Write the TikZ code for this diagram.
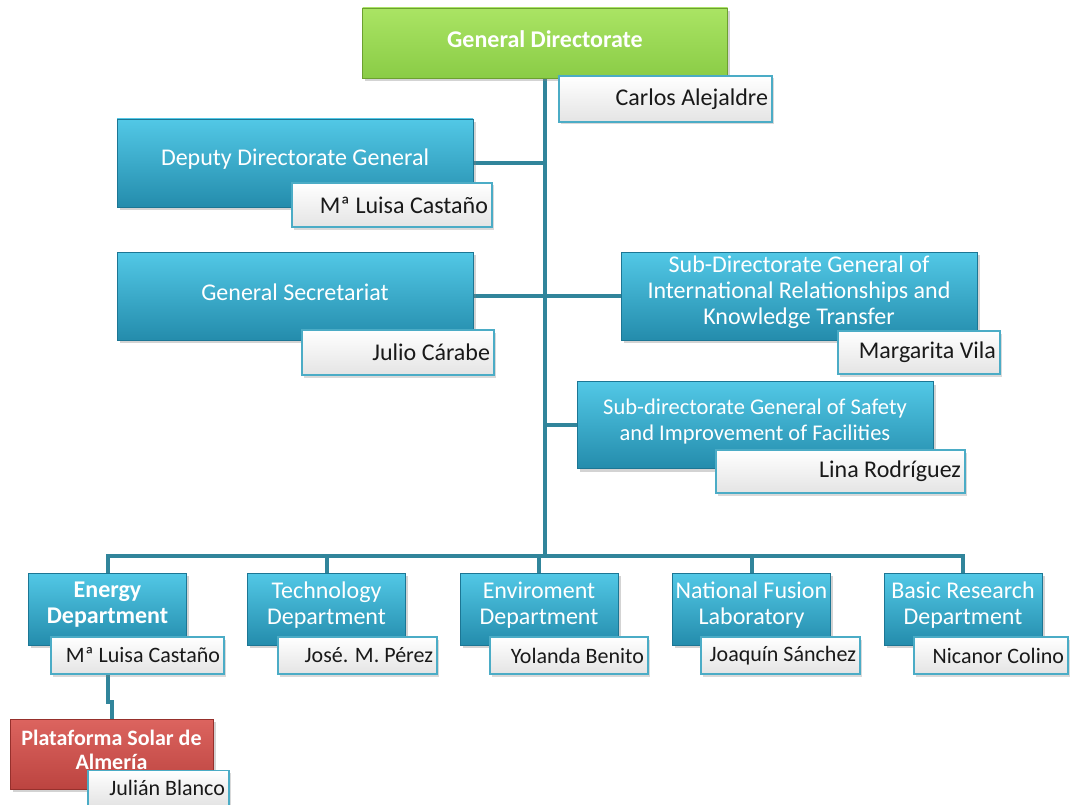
\documentclass[tikz,border=0pt]{standalone}
\usepackage{fontspec}
\setmainfont{Carlito}
\usepackage{xcolor}
\usepackage{tikz}
\usetikzlibrary{backgrounds,shadows,positioning}
\definecolor{LinkBlue}{RGB}{49,133,155}
\definecolor{UnitTop}{RGB}{82,200,230}
\definecolor{UnitBottom}{RGB}{36,140,172}
\definecolor{UnitEdge}{RGB}{28,118,148}
\definecolor{TopGreen}{RGB}{170,228,100}
\definecolor{BottomGreen}{RGB}{138,204,70}
\definecolor{EdgeGreen}{RGB}{108,160,48}
\definecolor{TopRed}{RGB}{220,100,95}
\definecolor{BottomRed}{RGB}{188,68,64}
\definecolor{EdgeRed}{RGB}{150,48,44}
\definecolor{NameEdge}{RGB}{75,172,198}
\definecolor{NameGrey}{RGB}{228,228,228}

\begin{document}
\begin{tikzpicture}[x=1pt, y=-1pt,
       text=black,
       every node/.style={font=\fontsize{24}{26}\selectfont},
       link/.style={draw=LinkBlue, line width=4pt},
       orgunit/.style 2 args={rectangle, minimum width=#1, minimum height=#2,
                              inner sep=0pt, line width=.8pt,
                              draw=UnitEdge, top color=UnitTop, bottom color=UnitBottom,
                              drop shadow={opacity=.35, shadow xshift=2.5pt, shadow yshift=-3pt}},
       green unit/.style={draw=EdgeGreen, top color=TopGreen, bottom color=BottomGreen},
       red unit/.style={draw=EdgeRed, top color=TopRed, bottom color=BottomRed},
       utext/.style={text=white, align=center, inner sep=0pt, yshift=4pt},
       boldtext/.style={font=\fontsize{24}{26}\selectfont\bfseries},
       person/.style 2 args={rectangle, text width=#1, minimum height=#2,
                             align=flush right, inner xsep=4pt, inner ysep=0pt, line width=1.5pt,
                             draw=NameEdge, top color=white, bottom color=NameGrey, text=black!90,
                             drop shadow={opacity=.3, shadow xshift=2pt, shadow yshift=-2.5pt}},
       smallname/.style={font=\fontsize{22}{24}\selectfont}]

    \useasboundingbox (0,0) rectangle (1070,805);

	%% Directorate and sub-directorates
	\node[orgunit={365}{70}, green unit,
	      label={[utext, boldtext]center:General Directorate}] (gd) at (545,43) {};
	\node[person={205}{46}] (gdp) at (665.5,99) {Carlos Alejaldre};

	\node[orgunit={356}{88}, label={[utext]center:Deputy Directorate General}] (ddg) at (295,163) {};
	\node[person={192}{44}] (ddgp) at (392,205) {Mª Luisa Castaño};

	\node[orgunit={356}{88}, label={[utext]center:General Secretariat}] (gs) at (295,296) {};
	\node[person={184}{45}] (gsp) at (398,352.5) {Julio Cárabe};

	\node[orgunit={356}{88},
	      label={[utext]center:Sub-Directorate General of\\International Relationships and\\Knowledge Transfer}] (intl) at (799,296) {};
	\node[person={154}{43}] (intlp) at (919,352.5) {Margarita Vila};

	\node[orgunit={356}{87},
	      label={[utext, font=\fontsize{22.5}{26}\selectfont]center:Sub-directorate General of Safety\\and Improvement of Facilities}] (safety) at (755,425) {};
	\node[person={241}{43}] (safetyp) at (840.5,471.5) {Lina Rodríguez};

	%% Departments
	\node[orgunit={158}{72}, label={[utext, boldtext]center:Energy\\Department}] (energy) at (107.5,609) {};
	\node[person={165}{37}, smallname] (energyp) at (137.5,655.5) {Mª Luisa Castaño};
	\foreach \u/\x/\txt/\who/\px/\w in {tech/326.5/{Technology\\Department}/{José. M. Pérez}/357.5/151,
	                                  env/539/{Enviroment\\Department}/{Yolanda Benito}/569/150,
	                                  nfl/751.5/{National Fusion\\Laboratory}/{Joaquín Sánchez}/780.5/151,
	                                  brd/963/{Basic Research\\Department}/{Nicanor Colino}/991/146}
	  {\node[orgunit={158}{72}, label={[utext]center:\txt}] (\u) at (\x,609) {};
	   \node[person={\w}{37}, smallname] (\u p) at (\px,655.5) {\who};}

	\node[orgunit={203}{70}, red unit,
	      label={[utext, font=\fontsize{22}{23.5}\selectfont\bfseries]center:Plataforma Solar de\\Almería}] (psa) at (111.5,754) {};
	\node[person={133}{35}, smallname] (psap) at (158.5,788) {Julián Blanco};

	%% Connectors behind the boxes
	\coordinate (bus) at (545,556);
	\begin{scope}[on background layer]
	  \draw[link] (gd.south) -- (bus);
	  \draw[link] (ddg.east) -- (ddg.east -| bus);
	  \draw[link] (gs.east) -- (intl.west);
	  \draw[link] (safety.west) -- (safety.west -| bus);
	  \foreach \u in {energy,tech,env,nfl,brd}
	    \draw[link] (bus) -| (\u.north);
	  \draw[link] (energy.south) -- ++(0,57) -| (psa.north);
	\end{scope}
\end{tikzpicture}
\end{document}
